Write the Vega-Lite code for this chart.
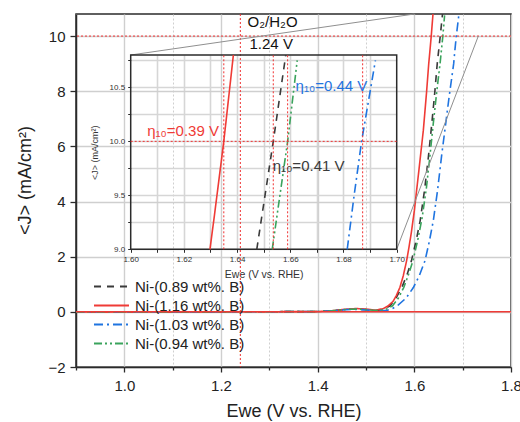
{
  "$schema": "https://vega.github.io/schema/vega-lite/v6.json",
  "width": 435,
  "height": 353,
  "autosize": {"type": "none"},
  "padding": {"left": 76, "top": 14, "right": 9, "bottom": 55},
  "config": {
    "font": "Liberation Sans",
    "view": {"stroke": "#2b2b2b", "strokeWidth": 1.5},
    "text": {"font": "Liberation Sans"}
  },
  "datasets": {
    "curves": [
      {"sample": "Ni-(0.89 wt%. B)", "e": 0.90, "j": 0},
      {"sample": "Ni-(0.89 wt%. B)", "e": 1.20, "j": 0},
      {"sample": "Ni-(0.89 wt%. B)", "e": 1.40, "j": 0.01},
      {"sample": "Ni-(0.89 wt%. B)", "e": 1.43, "j": 0.04},
      {"sample": "Ni-(0.89 wt%. B)", "e": 1.46, "j": 0.09},
      {"sample": "Ni-(0.89 wt%. B)", "e": 1.48, "j": 0.1},
      {"sample": "Ni-(0.89 wt%. B)", "e": 1.50, "j": 0.08},
      {"sample": "Ni-(0.89 wt%. B)", "e": 1.52, "j": 0.05},
      {"sample": "Ni-(0.89 wt%. B)", "e": 1.535, "j": 0.08},
      {"sample": "Ni-(0.89 wt%. B)", "e": 1.55, "j": 0.22},
      {"sample": "Ni-(0.89 wt%. B)", "e": 1.562, "j": 0.5},
      {"sample": "Ni-(0.89 wt%. B)", "e": 1.574, "j": 0.88},
      {"sample": "Ni-(0.89 wt%. B)", "e": 1.585, "j": 1.35},
      {"sample": "Ni-(0.89 wt%. B)", "e": 1.594, "j": 1.85},
      {"sample": "Ni-(0.89 wt%. B)", "e": 1.604, "j": 2.6},
      {"sample": "Ni-(0.89 wt%. B)", "e": 1.612, "j": 3.3},
      {"sample": "Ni-(0.89 wt%. B)", "e": 1.621, "j": 4.4},
      {"sample": "Ni-(0.89 wt%. B)", "e": 1.629, "j": 5.6},
      {"sample": "Ni-(0.89 wt%. B)", "e": 1.636, "j": 6.8},
      {"sample": "Ni-(0.89 wt%. B)", "e": 1.642, "j": 7.9},
      {"sample": "Ni-(0.89 wt%. B)", "e": 1.6474, "j": 9.0},
      {"sample": "Ni-(0.89 wt%. B)", "e": 1.6505, "j": 9.5},
      {"sample": "Ni-(0.89 wt%. B)", "e": 1.6536, "j": 10.0},
      {"sample": "Ni-(0.89 wt%. B)", "e": 1.6583, "j": 10.8},
      {"sample": "Ni-(1.16 wt%. B)", "e": 0.90, "j": 0},
      {"sample": "Ni-(1.16 wt%. B)", "e": 1.20, "j": 0},
      {"sample": "Ni-(1.16 wt%. B)", "e": 1.40, "j": 0.01},
      {"sample": "Ni-(1.16 wt%. B)", "e": 1.43, "j": 0.04},
      {"sample": "Ni-(1.16 wt%. B)", "e": 1.46, "j": 0.1},
      {"sample": "Ni-(1.16 wt%. B)", "e": 1.48, "j": 0.12},
      {"sample": "Ni-(1.16 wt%. B)", "e": 1.50, "j": 0.1},
      {"sample": "Ni-(1.16 wt%. B)", "e": 1.52, "j": 0.06},
      {"sample": "Ni-(1.16 wt%. B)", "e": 1.536, "j": 0.12},
      {"sample": "Ni-(1.16 wt%. B)", "e": 1.546, "j": 0.22},
      {"sample": "Ni-(1.16 wt%. B)", "e": 1.556, "j": 0.38},
      {"sample": "Ni-(1.16 wt%. B)", "e": 1.563, "j": 0.6},
      {"sample": "Ni-(1.16 wt%. B)", "e": 1.570, "j": 0.88},
      {"sample": "Ni-(1.16 wt%. B)", "e": 1.577, "j": 1.3},
      {"sample": "Ni-(1.16 wt%. B)", "e": 1.584, "j": 1.85},
      {"sample": "Ni-(1.16 wt%. B)", "e": 1.589, "j": 2.35},
      {"sample": "Ni-(1.16 wt%. B)", "e": 1.594, "j": 2.9},
      {"sample": "Ni-(1.16 wt%. B)", "e": 1.600, "j": 3.67},
      {"sample": "Ni-(1.16 wt%. B)", "e": 1.6086, "j": 5.0},
      {"sample": "Ni-(1.16 wt%. B)", "e": 1.6186, "j": 6.58},
      {"sample": "Ni-(1.16 wt%. B)", "e": 1.625, "j": 7.9},
      {"sample": "Ni-(1.16 wt%. B)", "e": 1.6298, "j": 9.0},
      {"sample": "Ni-(1.16 wt%. B)", "e": 1.6314, "j": 9.3},
      {"sample": "Ni-(1.16 wt%. B)", "e": 1.635, "j": 10.0},
      {"sample": "Ni-(1.16 wt%. B)", "e": 1.6386, "j": 10.8},
      {"sample": "Ni-(1.03 wt%. B)", "e": 0.90, "j": 0},
      {"sample": "Ni-(1.03 wt%. B)", "e": 1.20, "j": 0},
      {"sample": "Ni-(1.03 wt%. B)", "e": 1.40, "j": 0.01},
      {"sample": "Ni-(1.03 wt%. B)", "e": 1.43, "j": 0.04},
      {"sample": "Ni-(1.03 wt%. B)", "e": 1.46, "j": 0.08},
      {"sample": "Ni-(1.03 wt%. B)", "e": 1.48, "j": 0.09},
      {"sample": "Ni-(1.03 wt%. B)", "e": 1.50, "j": 0.07},
      {"sample": "Ni-(1.03 wt%. B)", "e": 1.52, "j": 0.04},
      {"sample": "Ni-(1.03 wt%. B)", "e": 1.543, "j": 0.05},
      {"sample": "Ni-(1.03 wt%. B)", "e": 1.555, "j": 0.12},
      {"sample": "Ni-(1.03 wt%. B)", "e": 1.567, "j": 0.25},
      {"sample": "Ni-(1.03 wt%. B)", "e": 1.583, "j": 0.5},
      {"sample": "Ni-(1.03 wt%. B)", "e": 1.598, "j": 0.88},
      {"sample": "Ni-(1.03 wt%. B)", "e": 1.610, "j": 1.3},
      {"sample": "Ni-(1.03 wt%. B)", "e": 1.622, "j": 1.85},
      {"sample": "Ni-(1.03 wt%. B)", "e": 1.631, "j": 2.55},
      {"sample": "Ni-(1.03 wt%. B)", "e": 1.6393, "j": 3.31},
      {"sample": "Ni-(1.03 wt%. B)", "e": 1.648, "j": 4.4},
      {"sample": "Ni-(1.03 wt%. B)", "e": 1.6567, "j": 5.7},
      {"sample": "Ni-(1.03 wt%. B)", "e": 1.664, "j": 6.7},
      {"sample": "Ni-(1.03 wt%. B)", "e": 1.672, "j": 7.8},
      {"sample": "Ni-(1.03 wt%. B)", "e": 1.6814, "j": 9.0},
      {"sample": "Ni-(1.03 wt%. B)", "e": 1.684, "j": 9.5},
      {"sample": "Ni-(1.03 wt%. B)", "e": 1.6868, "j": 10.0},
      {"sample": "Ni-(1.03 wt%. B)", "e": 1.692, "j": 10.75},
      {"sample": "Ni-(0.94 wt%. B)", "e": 0.90, "j": 0},
      {"sample": "Ni-(0.94 wt%. B)", "e": 1.20, "j": 0},
      {"sample": "Ni-(0.94 wt%. B)", "e": 1.40, "j": 0.01},
      {"sample": "Ni-(0.94 wt%. B)", "e": 1.43, "j": 0.04},
      {"sample": "Ni-(0.94 wt%. B)", "e": 1.46, "j": 0.09},
      {"sample": "Ni-(0.94 wt%. B)", "e": 1.48, "j": 0.1},
      {"sample": "Ni-(0.94 wt%. B)", "e": 1.50, "j": 0.08},
      {"sample": "Ni-(0.94 wt%. B)", "e": 1.52, "j": 0.05},
      {"sample": "Ni-(0.94 wt%. B)", "e": 1.54, "j": 0.08},
      {"sample": "Ni-(0.94 wt%. B)", "e": 1.555, "j": 0.22},
      {"sample": "Ni-(0.94 wt%. B)", "e": 1.567, "j": 0.5},
      {"sample": "Ni-(0.94 wt%. B)", "e": 1.578, "j": 0.88},
      {"sample": "Ni-(0.94 wt%. B)", "e": 1.588, "j": 1.35},
      {"sample": "Ni-(0.94 wt%. B)", "e": 1.597, "j": 1.85},
      {"sample": "Ni-(0.94 wt%. B)", "e": 1.607, "j": 2.6},
      {"sample": "Ni-(0.94 wt%. B)", "e": 1.616, "j": 3.4},
      {"sample": "Ni-(0.94 wt%. B)", "e": 1.625, "j": 4.5},
      {"sample": "Ni-(0.94 wt%. B)", "e": 1.632, "j": 5.6},
      {"sample": "Ni-(0.94 wt%. B)", "e": 1.639, "j": 6.8},
      {"sample": "Ni-(0.94 wt%. B)", "e": 1.6465, "j": 8.0},
      {"sample": "Ni-(0.94 wt%. B)", "e": 1.6532, "j": 9.0},
      {"sample": "Ni-(0.94 wt%. B)", "e": 1.6561, "j": 9.5},
      {"sample": "Ni-(0.94 wt%. B)", "e": 1.659, "j": 10.0},
      {"sample": "Ni-(0.94 wt%. B)", "e": 1.6626, "j": 10.75}
    ],
    "eta": [
      {"sample": "Ni-(1.16 wt%. B)", "e": 1.635, "j": 10.099, "text": "η₁₀=0.39 V", "tx": 1.6062},
      {"sample": "Ni-(0.89 wt%. B)", "e": 1.6536, "j": 9.768, "text": "η₁₀=0.41 V", "tx": 1.6534},
      {"sample": "Ni-(0.94 wt%. B)", "e": 1.659, "j": null, "text": "", "tx": null},
      {"sample": "Ni-(1.03 wt%. B)", "e": 1.6872, "j": 10.511, "text": "η₁₀=0.44 V", "tx": 1.662}
    ],
    "links": [
      {"link": "upper", "e": 1.6, "j": 10.8},
      {"link": "upper", "e": 1.0132, "j": 9.313},
      {"link": "lower", "e": 1.7324, "j": 10.0},
      {"link": "lower", "e": 1.5635, "j": 2.268}
    ],
    "notes": [
      {"text": "O₂/H₂O", "e": 1.255, "j": 10.5},
      {"text": "1.24 V", "e": 1.259, "j": 9.7}
    ]
  },
  "layer": [
    {
      "layer": [
        {
          "data": {"name": "curves"},
          "mark": {"type": "line", "strokeWidth": 1.6, "clip": true},
          "encoding": {
            "x": {
              "field": "e", "type": "quantitative",
              "scale": {"domain": [0.9, 1.8], "nice": false, "zero": false},
              "axis": {
                "orient": "bottom",
                "values": [0.9, 1.0, 1.1, 1.2, 1.3, 1.4, 1.5, 1.6, 1.7, 1.8],
                "labelExpr": "round(datum.value*10) % 2 == 0 ? format(datum.value, '.1f') : ''",
                "title": "Ewe (V vs. RHE)",
                "grid": true,
                "gridColor": "#cfcfcf",
                "gridWidth": {"condition": {"test": "round(datum.value*10) % 2 == 1", "value": 1}, "value": 1.4},
                "gridDash": {"condition": {"test": "round(datum.value*10) % 2 == 1", "value": [2, 2]}, "value": []},
                "tickSize": {"condition": {"test": "round(datum.value*10) % 2 == 1", "value": 3}, "value": 5},
                "tickColor": "#2b2b2b", "tickWidth": 1.3,
                "domainColor": "#2b2b2b", "domainWidth": 1.5,
                "labelFontSize": 15, "labelColor": "#222", "labelPadding": 6,
                "labelFlush": false, "labelOverlap": false,
                "titleFontSize": 18, "titleFontWeight": "normal", "titleColor": "#222", "titlePadding": 9
              }
            },
            "y": {
              "field": "j", "type": "quantitative",
              "scale": {"domain": [-2, 10.8], "nice": false, "zero": false},
              "axis": {
                "orient": "left",
                "values": [-2, -1, 0, 1, 2, 3, 4, 5, 6, 7, 8, 9, 10],
                "labelExpr": "abs(datum.value) % 2 == 1 ? '' : format(datum.value, 'd')",
                "title": "<J> (mA/cm²)",
                "grid": true,
                "gridColor": "#cfcfcf",
                "gridWidth": {"condition": {"test": "abs(datum.value) % 2 == 1", "value": 1}, "value": 1.4},
                "gridDash": {"condition": {"test": "abs(datum.value) % 2 == 1", "value": [2, 2]}, "value": []},
                "tickSize": {"condition": {"test": "abs(datum.value) % 2 == 1", "value": 3}, "value": 6},
                "tickColor": "#2b2b2b", "tickWidth": 1.3,
                "domainColor": "#2b2b2b", "domainWidth": 1.5,
                "labelFontSize": 15, "labelColor": "#222", "labelPadding": 5,
                "labelOverlap": false,
                "titleFontSize": 18, "titleFontWeight": "normal", "titleColor": "#222",
                "titlePadding": 13, "titleY": 166
              }
            },
            "color": {
              "field": "sample", "type": "nominal",
              "scale": {
                "domain": ["Ni-(0.89 wt%. B)", "Ni-(1.16 wt%. B)", "Ni-(1.03 wt%. B)", "Ni-(0.94 wt%. B)"],
                "range": ["#3a3a3a", "#ef3b36", "#1f74e0", "#3aa35c"]
              },
              "legend": {
                "title": null, "orient": "none", "legendX": 17, "legendY": 263,
                "symbolType": "stroke", "symbolSize": 1225, "symbolStrokeWidth": 1.8,
                "labelFontSize": 15, "labelColor": "#222", "labelOffset": 5,
                "clipHeight": 19, "rowPadding": 0, "padding": 0
              }
            },
            "strokeDash": {
              "field": "sample", "type": "nominal",
              "scale": {
                "domain": ["Ni-(0.89 wt%. B)", "Ni-(1.16 wt%. B)", "Ni-(1.03 wt%. B)", "Ni-(0.94 wt%. B)"],
                "range": [[7, 6], [1, 0], [9, 4, 2, 4], [8, 3, 2, 3, 2, 3]]
              },
              "legend": {
                "title": null, "orient": "none", "legendX": 17, "legendY": 263,
                "symbolType": "stroke", "symbolSize": 1225, "symbolStrokeWidth": 1.8,
                "labelFontSize": 15, "labelColor": "#222", "labelOffset": 5,
                "clipHeight": 19, "rowPadding": 0, "padding": 0
              }
            }
          }
        },
        {
          "data": {"values": [{}]},
          "mark": {"type": "rule", "color": "#ef3b36", "strokeWidth": 1.5},
          "encoding": {"y": {"datum": 0, "type": "quantitative"}}
        },
        {
          "data": {"values": [{}]},
          "mark": {"type": "rule", "color": "#f03030", "strokeWidth": 1, "strokeDash": [2, 2]},
          "encoding": {"y": {"datum": 10, "type": "quantitative"}}
        },
        {
          "data": {"values": [{}]},
          "mark": {"type": "rule", "color": "#f03030", "strokeWidth": 1, "strokeDash": [2, 2]},
          "encoding": {"x": {"datum": 1.24, "type": "quantitative"}}
        },
        {
          "data": {"name": "links"},
          "mark": {"type": "line", "color": "#8f8f8f", "strokeWidth": 1},
          "encoding": {
            "x": {"field": "e", "type": "quantitative"},
            "y": {"field": "j", "type": "quantitative"},
            "detail": {"field": "link", "type": "nominal"}
          }
        },
        {
          "data": {"name": "notes"},
          "mark": {"type": "text", "align": "left", "baseline": "middle", "fontSize": 15, "color": "#111"},
          "encoding": {
            "x": {"field": "e", "type": "quantitative"},
            "y": {"field": "j", "type": "quantitative"},
            "text": {"field": "text"}
          }
        }
      ]
    },
    {
      "layer": [
        {
          "data": {"values": [{}]},
          "mark": {"type": "rect", "fill": "#ffffff", "fillOpacity": 0, "stroke": "#2b2b2b", "strokeWidth": 1.5},
          "encoding": {
            "x": {
              "datum": 1.6, "type": "quantitative",
              "axis": {
                "orient": "top",
                "values": [1.61, 1.62, 1.63, 1.64, 1.65, 1.66, 1.67, 1.68, 1.69],
                "grid": true, "gridColor": "#d6d6d6", "gridWidth": 1.6,
                "domain": false, "ticks": false, "labels": false, "title": null
              }
            },
            "x2": {"datum": 1.7},
            "y": {"datum": 9.0, "type": "quantitative"},
            "y2": {"datum": 10.8}
          }
        },
        {
          "data": {"name": "curves"},
          "transform": [{"filter": "datum.j >= 9 && datum.j <= 10.81"}],
          "mark": {"type": "line", "strokeWidth": 1.6},
          "encoding": {
            "x": {
              "field": "e", "type": "quantitative",
              "scale": {"domain": [1.6, 1.7], "range": [54.7, 320.7], "nice": false, "zero": false},
              "axis": {
                "orient": "bottom", "offset": -117.7,
                "values": [1.6, 1.61, 1.62, 1.63, 1.64, 1.65, 1.66, 1.67, 1.68, 1.69, 1.7],
                "labelExpr": "round(datum.value*100) % 2 == 0 ? format(datum.value, '.2f') : ''",
                "grid": false, "domain": false,
                "tickSize": 3, "tickColor": "#2b2b2b", "tickWidth": 1,
                "labelFontSize": 8, "labelColor": "#333", "labelPadding": 3,
                "labelFlush": false, "labelOverlap": false,
                "title": "Ewe (V vs. RHE)", "titleFontSize": 10.5, "titleFontWeight": "normal",
                "titleColor": "#333", "titlePadding": 6
              }
            },
            "y": {
              "field": "j", "type": "quantitative",
              "scale": {"domain": [9.0, 10.8], "range": [235.3, 41], "nice": false, "zero": false},
              "axis": {
                "orient": "left", "offset": -54.7,
                "values": [9.0, 9.25, 9.5, 9.75, 10.0, 10.25, 10.5, 10.75],
                "labelExpr": "round(datum.value*4) % 2 == 0 ? format(datum.value, '.1f') : ''",
                "grid": true, "gridColor": "#d6d6d6", "gridWidth": 1.6,
                "domain": false,
                "tickSize": 3, "tickColor": "#2b2b2b", "tickWidth": 1,
                "labelFontSize": 8, "labelColor": "#333", "labelPadding": 3,
                "labelOverlap": false,
                "title": "<J> (mA/cm²)", "titleFontSize": 9, "titleFontWeight": "normal",
                "titleColor": "#333", "titlePadding": 10
              }
            },
            "color": {"field": "sample", "type": "nominal"},
            "strokeDash": {"field": "sample", "type": "nominal"}
          }
        },
        {
          "data": {"name": "eta"},
          "mark": {"type": "rule", "color": "#f03030", "strokeWidth": 1, "strokeDash": [2, 2]},
          "encoding": {
            "x": {"field": "e", "type": "quantitative", "axis": null},
            "y": {"datum": 9.0, "type": "quantitative"},
            "y2": {"datum": 10.8}
          }
        },
        {
          "data": {"values": [{}]},
          "mark": {"type": "rule", "color": "#f03030", "strokeWidth": 1, "strokeDash": [2, 2]},
          "encoding": {
            "x": {"datum": 1.6, "type": "quantitative", "axis": null},
            "x2": {"datum": 1.7},
            "y": {"datum": 10.0, "type": "quantitative"}
          }
        },
        {
          "data": {"name": "eta"},
          "transform": [{"filter": "datum.text != ''"}],
          "mark": {"type": "text", "align": "left", "baseline": "middle", "fontSize": 15},
          "encoding": {
            "x": {"field": "tx", "type": "quantitative", "axis": null},
            "y": {"field": "j", "type": "quantitative"},
            "text": {"field": "text"},
            "color": {"field": "sample", "type": "nominal", "legend": null}
          }
        }
      ],
      "resolve": {"axis": {"x": "independent"}}
    }
  ],
  "resolve": {"scale": {"x": "independent", "y": "independent"}}
}
